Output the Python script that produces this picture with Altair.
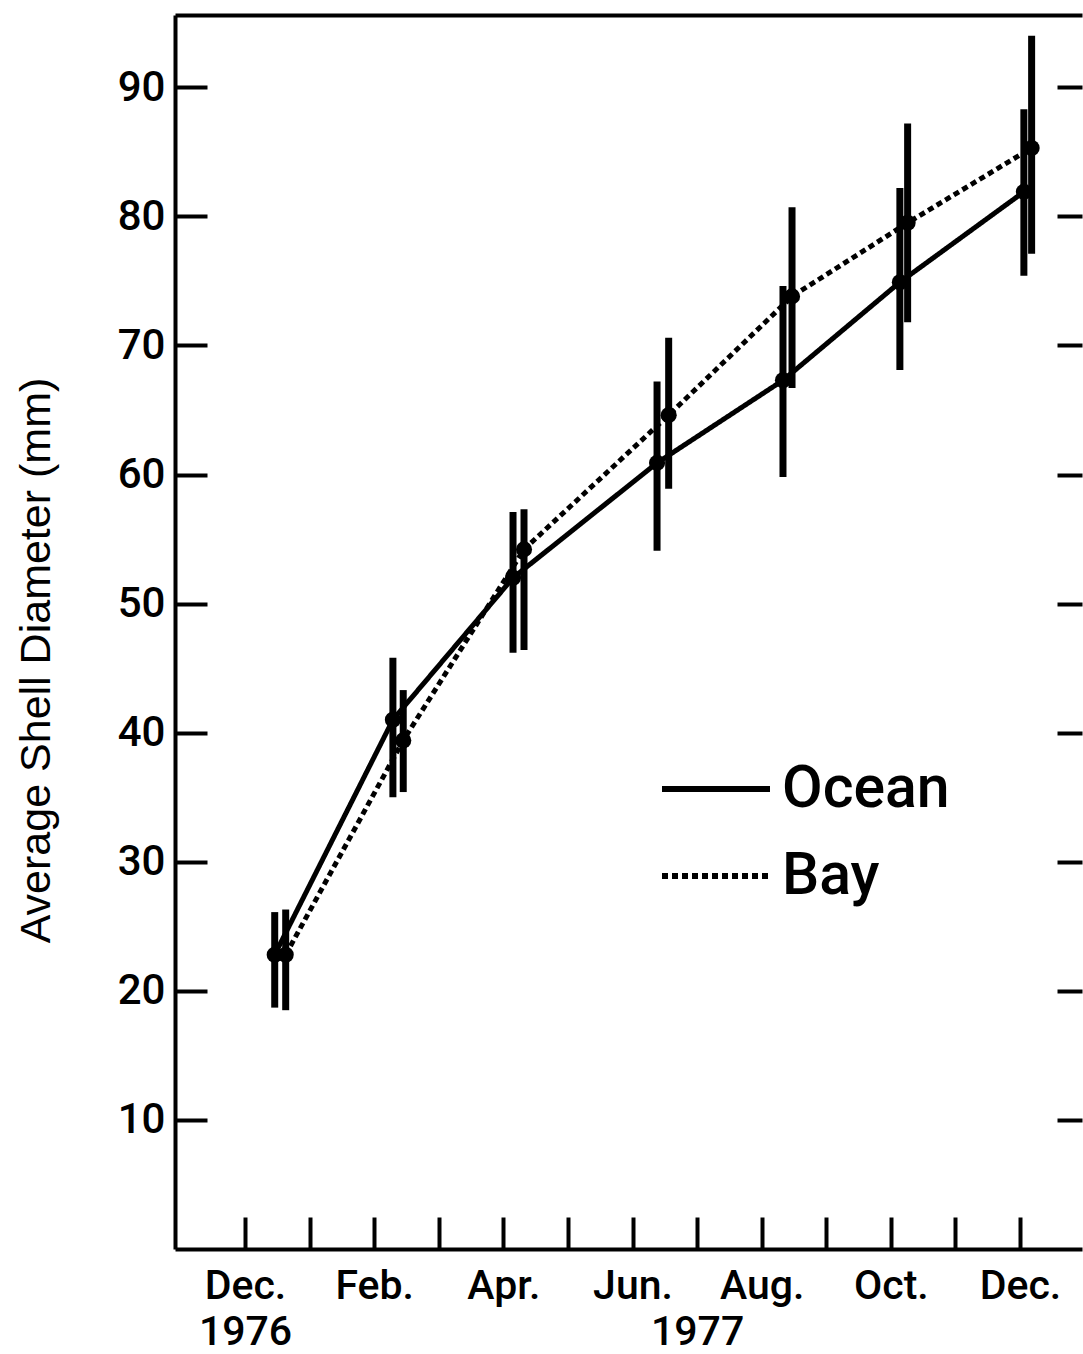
import altair as alt
import pandas as pd

# ---- data (x = months after Dec. 1976) ----
series_names = ["Ocean", "Bay"]

ocean_month = [0.46, 2.29, 4.15, 6.38, 8.33, 10.14, 12.06]
ocean_mean = [22.8, 41.0, 52.0, 60.9, 67.3, 74.9, 81.9]
ocean_low = [18.7, 35.0, 46.2, 54.1, 59.8, 68.1, 75.4]
ocean_high = [26.1, 45.8, 57.1, 67.2, 74.6, 82.2, 88.3]

bay_month = [0.63, 2.45, 4.32, 6.56, 8.47, 10.26, 12.18]
bay_mean = [22.8, 39.4, 54.2, 64.6, 73.8, 79.5, 85.3]
bay_low = [18.5, 35.4, 46.4, 58.9, 66.7, 71.8, 77.1]
bay_high = [26.3, 43.3, 57.3, 70.6, 80.7, 87.2, 94.0]

month_ticks = list(range(13))
label_positions = [0, 2, 4, 6, 7, 8, 10, 12]
label_line1 = ["Dec.", "Feb.", "Apr.", "Jun.", "", "Aug.", "Oct.", "Dec."]
label_line2 = ["1976", "", "", "", "1977", "", "", ""]
y_ticks = [10, 20, 30, 40, 50, 60, 70, 80, 90]
y_title = "Average Shell Diameter (mm)"

rows = []
for name, ms, mn, lo, hi in [
    ("Ocean", ocean_month, ocean_mean, ocean_low, ocean_high),
    ("Bay", bay_month, bay_mean, bay_low, bay_high),
]:
    for a, b, c, d in zip(ms, mn, lo, hi):
        rows.append({"series": name, "month": a, "mean": b, "low": c, "high": d})
df = pd.DataFrame(rows)

# ---- label expression ----
parts = []
for p, l1, l2 in zip(label_positions, label_line1, label_line2):
    if l2:
        txt = "['%s','%s']" % (l1, l2)
    else:
        txt = "'%s'" % l1
    parts.append("datum.value == %d ? %s" % (p, txt))
label_expr = " : ".join(parts) + " : ''"

W, H = 907, 1234
FONT = "Roboto"
TFONT = "Liberation Sans"
LW = 500

x_scale = alt.Scale(domain=[-1.084, 12.96], nice=False, zero=False)
y_scale = alt.Scale(domain=[0, 95.6], nice=False, zero=False)

x_label_axis = alt.Axis(
    orient="bottom", values=label_positions, labelExpr=label_expr,
    ticks=False, tickSize=0, domain=True, domainColor="black", domainWidth=4,
    grid=False, labelFont=FONT, labelFontSize=41, labelFontWeight=LW,
    labelColor="black", labelPadding=17, labelBaseline="top", labelLineHeight=46,
    labelOverlap=False, labelFlush=False, labelBound=False, title=None,
)
y_label_axis = alt.Axis(
    orient="left", values=y_ticks, ticks=False, tickSize=0, domain=True,
    domainColor="black", domainWidth=4, grid=False, labelFont=FONT,
    labelFontSize=42, labelFontWeight=LW, labelColor="black", labelPadding=10,
    labelOverlap=False, labelFlush=False, labelBound=False,
    title=y_title, titleFont=TFONT, titleFontSize=43, titleFontWeight="normal",
    titleColor="black", titleAngle=270, titleBaseline="middle",
    titleAlign="center", titleX=-139, titleY=645,
)

rules = alt.Chart(df).mark_rule(color="black", strokeWidth=7).encode(
    x=alt.X("month:Q", scale=x_scale, axis=x_label_axis),
    y=alt.Y("low:Q", scale=y_scale, axis=y_label_axis),
    y2="high:Q",
)

lines = alt.Chart(df).mark_line(color="black", strokeWidth=5, strokeCap="butt").encode(
    x=alt.X("month:Q", scale=x_scale, axis=None),
    y=alt.Y("mean:Q", scale=y_scale, axis=None),
    strokeDash=alt.StrokeDash(
        "series:N",
        scale=alt.Scale(domain=series_names, range=[[1, 0], [6, 4]]),
        legend=alt.Legend(
            orient="none", legendX=484, legendY=717, title=None,
            symbolType="stroke", symbolSize=11664, symbolStrokeWidth=6,
            symbolStrokeColor="black", labelFont=FONT, labelFontSize=59,
            labelFontWeight=LW, labelColor="black", labelOffset=9,
            labelLimit=0, rowPadding=-45, padding=0,
        ),
    ),
    detail="series:N",
)

points = alt.Chart(df).mark_circle(color="black", size=260, opacity=1).encode(
    x=alt.X("month:Q", scale=x_scale, axis=None),
    y=alt.Y("mean:Q", scale=y_scale, axis=None),
)

# inward ticks: left side and bottom
ticks_a = alt.Chart(df).mark_point(opacity=0).encode(
    x=alt.X("month:Q", scale=x_scale, axis=alt.Axis(
        orient="top", offset=-H, values=month_ticks, labels=False, domain=False,
        ticks=True, tickSize=32, tickWidth=4, tickColor="black", grid=False, title=None)),
    y=alt.Y("mean:Q", scale=y_scale, axis=alt.Axis(
        orient="right", offset=-W, values=y_ticks, labels=False, domain=False,
        ticks=True, tickSize=32, tickWidth=4, tickColor="black", grid=False, title=None)),
)

# inward ticks on right side, top border
ticks_b = alt.Chart(df).mark_point(opacity=0).encode(
    x=alt.X("month:Q", scale=x_scale, axis=alt.Axis(
        orient="top", values=month_ticks, labels=False, domain=True,
        domainColor="black", domainWidth=4, ticks=False, grid=False, title=None)),
    y=alt.Y("mean:Q", scale=y_scale, axis=alt.Axis(
        orient="left", offset=-W, values=y_ticks, labels=False, domain=False,
        ticks=True, tickSize=25, tickWidth=4, tickColor="black", grid=False, title=None)),
)

chart = alt.layer(rules, lines, points, ticks_a, ticks_b).resolve_axis(
    x="independent", y="independent"
).properties(
    width=W, height=H,
    autosize=alt.AutoSizeParams(type="none"),
    padding={"left": 175, "top": 15, "right": 1, "bottom": 105},
    background="white",
).configure_view(stroke=None)

chart.save("out.html", embed_options={"renderer": "svg", "actions": False})
